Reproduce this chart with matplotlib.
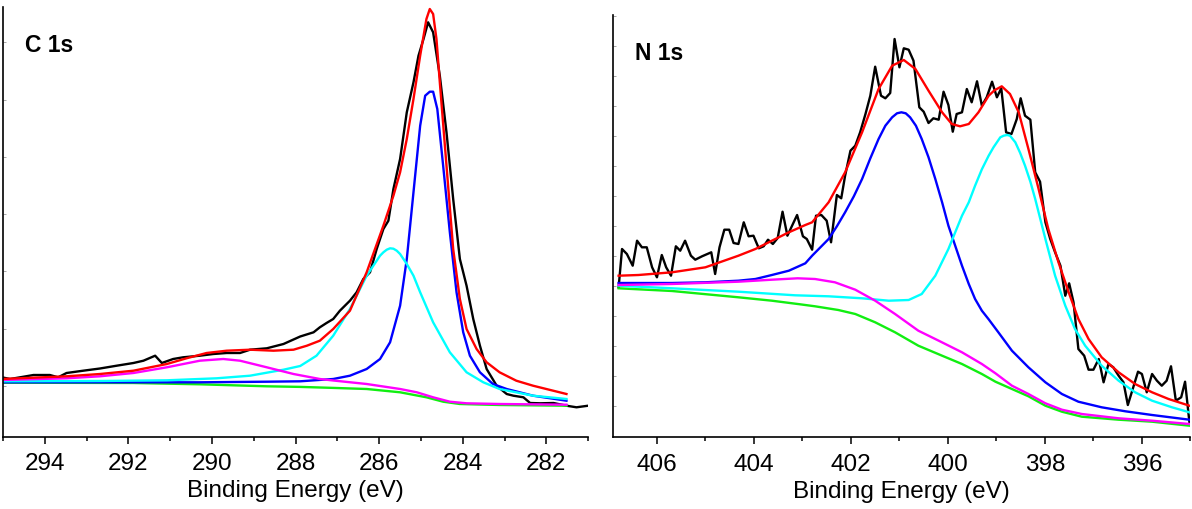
import numpy as np
import matplotlib
matplotlib.use("Agg")
import matplotlib.pyplot as plt
from matplotlib.ticker import MultipleLocator

plt.rcParams["font.family"] = ["Liberation Sans", "DejaVu Sans"]

# ---------------- C 1s region ----------------
c_raw_be = [295.03, 294.83, 294.59, 294.27, 293.88, 293.68, 293.48, 293.08, 292.68, 292.28,
            291.88, 291.64, 291.36, 291.20, 290.93, 290.69, 290.29, 289.97, 289.65, 289.33,
            289.09, 288.69, 288.29, 287.89, 287.57, 287.42, 287.26, 287.10, 286.94, 286.70,
            286.54, 286.38, 286.22, 286.06, 285.90, 285.78, 285.66, 285.50, 285.34, 285.18,
            285.06, 284.94, 284.83, 284.71, 284.55, 284.39, 284.23, 284.07, 283.91, 283.75,
            283.59, 283.43, 283.19, 282.95, 282.79, 282.55, 282.39, 282.15, 281.83, 281.52,
            281.28, 281.00]
c_raw_int = [59.2, 57.5, 59.2, 61.5, 61.5, 59.2, 63.5, 65.8, 68.0, 70.8,
             73.5, 75.8, 80.8, 73.5, 77.5, 79.2, 80.8, 82.5, 83.5, 83.5,
             86.8, 88.2, 92.5, 100.0, 104.2, 109.2, 113.5, 117.5, 125.8, 135.8,
             144.2, 157.5, 164.2, 187.5, 207.5, 215.8, 247.5, 277.5, 324.2, 354.2,
             380.8, 397.5, 414.2, 404.2, 360.8, 304.2, 237.5, 177.5, 150.8, 117.5,
             90.8, 67.5, 50.8, 42.5, 40.8, 39.2, 33.5, 33.2, 33.5, 30.8,
             29.2, 30.8]

c_env_be = [295.03, 293.48, 292.68, 291.88, 291.08, 290.61, 290.13, 289.65, 289.09, 288.53,
            288.05, 287.73, 287.42, 287.10, 286.70, 286.30, 285.90, 285.66, 285.50, 285.34,
            285.18, 285.02, 284.87, 284.79, 284.71, 284.63, 284.55, 284.39, 284.23, 284.07,
            283.91, 283.67, 283.43, 283.12, 282.72, 282.32, 281.52]
c_env_int = [57.5, 60.2, 62.5, 65.8, 72.5, 78.2, 83.5, 85.8, 86.8, 85.8,
             86.8, 90.8, 95.8, 107.5, 125.8, 164.2, 210.8, 240.8, 264.2, 297.5,
             337.5, 380.8, 417.5, 427.5, 422.5, 397.5, 354.2, 270.8, 187.5, 137.5,
             107.5, 87.5, 74.2, 64.2, 55.8, 50.8, 42.5]

c_p1_be = [295.03, 290.29, 288.69, 287.89, 287.10, 286.70, 286.30, 285.98, 285.74, 285.50,
           285.34, 285.18, 285.02, 284.90, 284.79, 284.71, 284.61, 284.47, 284.31, 284.15,
           283.99, 283.83, 283.59, 283.28, 282.95, 282.32, 281.52]
c_p1_int = [54.2, 54.2, 54.8, 55.2, 57.5, 60.8, 67.5, 77.5, 94.2, 130.8,
            177.5, 244.2, 310.8, 340.8, 344.8, 344.8, 327.5, 270.8, 204.2, 144.2,
            104.2, 80.8, 64.2, 52.5, 47.5, 40.8, 35.8]

c_p2_be = [295.03, 292.68, 291.08, 289.89, 289.09, 288.29, 287.89, 287.50, 287.10, 286.70,
           286.30, 286.06, 285.98, 285.90, 285.82, 285.74, 285.66, 285.58, 285.50, 285.42,
           285.34, 285.18, 285.02, 284.71, 284.31, 283.91, 283.51, 283.12, 282.32, 281.52]
c_p2_int = [55.2, 55.5, 56.2, 58.2, 60.8, 66.8, 70.5, 80.8, 100.8, 127.5,
            160.8, 175.8, 180.8, 184.2, 186.8, 188.2, 187.8, 185.8, 182.5, 177.5,
            172.5, 160.8, 144.2, 114.2, 84.2, 64.2, 54.2, 47.5, 40.8, 37.5]

c_p3_be = [295.03, 293.48, 292.68, 291.88, 291.08, 290.29, 289.73, 289.33, 288.69, 288.05,
           287.42, 287.10, 286.30, 285.50, 285.10, 284.71, 284.31, 283.91, 283.12, 281.52]
c_p3_int = [56.5, 58.2, 60.2, 63.5, 69.2, 75.8, 77.5, 75.8, 69.2, 62.5,
            57.5, 56.0, 52.5, 47.5, 44.2, 39.2, 34.8, 33.2, 32.5, 31.8]

c_bg_be = [295.03, 291.88, 290.29, 288.69, 287.89, 287.10, 286.30, 285.50, 284.87, 284.47,
           284.07, 283.12, 281.52]
c_bg_int = [53.8, 53.5, 52.2, 50.2, 49.6, 48.6, 47.5, 44.2, 39.2, 34.8,
            32.5, 31.5, 30.8]

# ---------------- N 1s region ----------------
n_raw_be = [406.79, 406.72, 406.62, 406.50, 406.41, 406.31, 406.21, 406.10, 406.00, 405.90,
            405.81, 405.71, 405.61, 405.52, 405.42, 405.30, 405.21, 405.07, 404.88, 404.80,
            404.71, 404.61, 404.51, 404.42, 404.32, 404.21, 404.11, 404.01, 403.90, 403.80,
            403.71, 403.61, 403.51, 403.41, 403.31, 403.11, 402.99, 402.91, 402.80, 402.72,
            402.61, 402.50, 402.41, 402.29, 402.20, 402.12, 402.01, 401.91, 401.81, 401.70,
            401.60, 401.50, 401.38, 401.29, 401.19, 401.10, 401.00, 400.91, 400.81, 400.71,
            400.59, 400.50, 400.40, 400.30, 400.19, 400.09, 399.99, 399.90, 399.82, 399.71,
            399.61, 399.51, 399.40, 399.30, 399.20, 399.09, 398.99, 398.90, 398.80, 398.69,
            398.58, 398.50, 398.41, 398.30, 398.20, 398.10, 397.99, 397.89, 397.79, 397.68,
            397.58, 397.50, 397.41, 397.31, 397.19, 397.10, 397.00, 396.89, 396.79, 396.69,
            396.59, 396.48, 396.38, 396.29, 396.21, 396.08, 396.00, 395.90, 395.79, 395.69,
            395.59, 395.49, 395.40, 395.30, 395.19, 395.11, 395.02]
n_raw_int = [150.0, 188.3, 183.3, 171.6, 196.6, 190.0, 190.0, 170.0, 160.0, 182.3,
             170.0, 161.6, 191.0, 186.6, 196.6, 181.6, 177.6, 181.0, 185.0, 163.3,
             190.0, 207.6, 207.6, 194.3, 193.3, 215.0, 201.0, 201.6, 189.0, 191.0,
             197.6, 193.3, 199.3, 225.6, 201.6, 222.3, 201.0, 198.3, 187.6, 221.6,
             222.3, 216.6, 195.0, 242.3, 239.0, 261.6, 286.6, 291.6, 305.0, 323.3,
             341.6, 370.6, 341.6, 339.0, 344.3, 398.3, 370.0, 389.0, 387.6, 376.6,
             330.0, 325.6, 314.3, 319.0, 317.6, 345.6, 332.3, 305.6, 323.3, 325.0,
             348.3, 335.0, 356.0, 331.6, 340.0, 355.6, 340.0, 349.0, 305.0, 303.3,
             318.3, 339.0, 321.6, 317.6, 265.0, 255.6, 215.0, 198.3, 185.0, 171.6,
             141.6, 154.0, 135.0, 88.3, 81.6, 67.6, 67.6, 78.3, 55.0, 73.3,
             70.0, 61.6, 55.0, 32.3, 45.0, 65.6, 63.3, 45.0, 63.3, 56.6,
             51.6, 56.6, 71.0, 36.6, 40.0, 55.6, 15.0]

n_env_be = [406.79, 406.38, 405.69, 405.00, 404.32, 403.97, 403.63, 403.28, 402.94, 402.80,
            402.46, 402.12, 401.77, 401.43, 401.15, 400.91, 400.67, 400.40, 400.12, 399.92,
            399.75, 399.57, 399.37, 399.16, 399.04, 398.89, 398.72, 398.54, 398.34, 398.13,
            397.93, 397.72, 397.51, 397.31, 397.10, 396.83, 396.48, 396.14, 395.79, 395.45,
            395.02]
n_env_int = [161.6, 162.3, 165.0, 170.0, 181.6, 188.3, 196.6, 205.0, 212.3, 215.0,
             235.0, 265.0, 305.0, 348.3, 371.6, 377.3, 368.3, 346.6, 325.0, 313.3,
             311.0, 313.3, 325.0, 341.6, 347.0, 351.0, 343.3, 325.0, 288.3, 248.3,
             208.3, 175.0, 145.0, 118.3, 98.3, 80.0, 65.0, 53.3, 45.0, 38.3,
             31.6]

n_p1_be = [406.79, 405.69, 405.00, 404.32, 403.97, 403.63, 403.28, 402.94, 402.80, 402.46,
           402.29, 402.12, 401.94, 401.77, 401.60, 401.43, 401.29, 401.15, 401.05, 400.96,
           400.87, 400.78, 400.66, 400.54, 400.40, 400.26, 400.12, 399.99, 399.85, 399.71,
           399.57, 399.44, 399.30, 399.16, 398.96, 398.68, 398.34, 397.99, 397.65, 397.31,
           396.83, 396.34, 395.79, 395.02]
n_p1_int = [154.3, 154.3, 155.0, 156.6, 158.3, 162.3, 166.6, 174.0, 181.6, 198.3,
            211.0, 225.0, 241.0, 258.3, 279.0, 298.3, 311.6, 320.0, 324.0, 325.0,
            324.0, 320.0, 311.6, 298.3, 280.0, 258.3, 235.0, 211.6, 191.6, 171.6,
            153.3, 138.3, 126.6, 118.0, 105.0, 86.6, 70.0, 55.0, 43.3, 35.6,
            30.0, 26.0, 22.3, 17.6]

n_p2_be = [406.79, 405.69, 404.32, 403.15, 402.46, 401.77, 401.22, 400.81, 400.54, 400.26,
           399.99, 399.71, 399.57, 399.44, 399.30, 399.16, 399.06, 398.92, 398.85, 398.78,
           398.72, 398.61, 398.51, 398.41, 398.30, 398.20, 397.99, 397.79, 397.58, 397.38,
           397.17, 396.83, 396.48, 396.14, 395.79, 395.38, 395.02]
n_p2_int = [151.6, 149.0, 145.6, 142.0, 141.0, 139.0, 136.6, 137.3, 143.3, 161.6,
            188.3, 221.6, 235.0, 251.6, 268.0, 281.6, 290.0, 300.0, 301.6, 302.3,
            301.6, 295.0, 284.3, 271.6, 255.6, 238.3, 198.3, 161.6, 131.6, 108.3,
            91.6, 71.6, 56.6, 45.0, 36.6, 30.0, 25.0]

n_p3_be = [406.79, 405.69, 404.32, 403.63, 403.10, 402.74, 402.33, 401.91, 401.50, 401.09,
           400.61, 400.19, 399.71, 399.30, 399.02, 398.68, 398.34, 397.99, 397.65, 397.24,
           396.48, 395.79, 395.02]
n_p3_int = [152.3, 153.3, 155.6, 157.6, 159.0, 158.3, 155.0, 147.6, 136.6, 123.3,
            106.6, 96.6, 85.0, 73.3, 64.0, 51.6, 43.3, 34.0, 27.6, 23.3,
            19.0, 16.6, 13.3]

n_bg_be = [406.79, 405.69, 404.32, 403.63, 403.05, 402.74, 402.26, 401.91, 401.50, 401.09,
           400.61, 400.12, 399.71, 399.30, 399.02, 398.68, 398.34, 397.99, 397.65, 397.24,
           396.48, 395.79, 395.02]
n_bg_int = [149.0, 146.3, 140.0, 136.6, 133.0, 131.0, 127.3, 123.3, 115.0, 105.0,
            91.6, 81.6, 73.3, 63.3, 55.6, 48.3, 41.0, 31.6, 25.6, 20.6,
            17.6, 15.6, 11.6]

W, H = 1192, 510
fig = plt.figure(figsize=(W / 100, H / 100), dpi=100)

LW = 1.7
COL_RAW = "black"
COL_ENV = "#ff0000"
COL_P1 = "#0000ff"
COL_P2 = "#00ffff"
COL_P3 = "#ff00ff"
COL_BG = "#11ee11"
FS = 17.5


def make_axes(left, bottom, right, top):
    return fig.add_axes([left / W, 1 - bottom / H, (right - left) / W, (bottom - top) / H])


def style(ax, xlim, ylim, ytick_start, ytick_step):
    ax.set_xlim(*xlim)
    ax.set_ylim(*ylim)
    for s in ("top", "right"):
        ax.spines[s].set_visible(False)
    for s in ("left", "bottom"):
        ax.spines[s].set_linewidth(1.2)
    ax.xaxis.set_major_locator(MultipleLocator(2))
    ax.xaxis.set_minor_locator(MultipleLocator(1))
    ax.tick_params(axis="x", which="major", direction="out", length=5, width=1.1,
                   labelsize=FS, pad=6)
    ax.tick_params(axis="x", which="minor", direction="out", length=3, width=1.1)
    ax.set_yticks(np.arange(ytick_start, ylim[1], ytick_step))
    ax.tick_params(axis="y", which="major", direction="in", length=2, width=0.6,
                   colors="#999999", labelleft=False)
    ax.set_xlabel("Binding Energy (eV)", fontsize=FS, labelpad=4)


def draw(ax, series):
    for be, inten, col in series:
        ax.plot(be, inten, color=col, lw=LW, solid_joinstyle="round")


# C 1s panel
ax1 = make_axes(3, 437.5, 588.2, 8)
draw(ax1, [
    (c_raw_be, c_raw_int, COL_RAW),
    (c_bg_be, c_bg_int, COL_BG),
    (c_p1_be, c_p1_int, COL_P1),
    (c_p2_be, c_p2_int, COL_P2),
    (c_p3_be, c_p3_int, COL_P3),
    (c_env_be, c_env_int, COL_ENV),
])
style(ax1, (295, 281), (0, 429.5), 50.5, 57.3)

# N 1s panel
ax2 = make_axes(613.3, 438.3, 1190.4, 16)
draw(ax2, [
    (n_raw_be, n_raw_int, COL_RAW),
    (n_bg_be, n_bg_int, COL_BG),
    (n_p1_be, n_p1_int, COL_P1),
    (n_p2_be, n_p2_int, COL_P2),
    (n_p3_be, n_p3_int, COL_P3),
    (n_env_be, n_env_int, COL_ENV),
])
style(ax2, (406.9, 395.0), (0, 422.3), 31.6, 30.0)

fig.text(25 / W, 1 - 52 / H, "C 1s", fontsize=16.5, fontweight="bold", va="baseline")
fig.text(635 / W, 1 - 60 / H, "N 1s", fontsize=16.5, fontweight="bold", va="baseline")

fig.savefig("out.png", dpi=100)
